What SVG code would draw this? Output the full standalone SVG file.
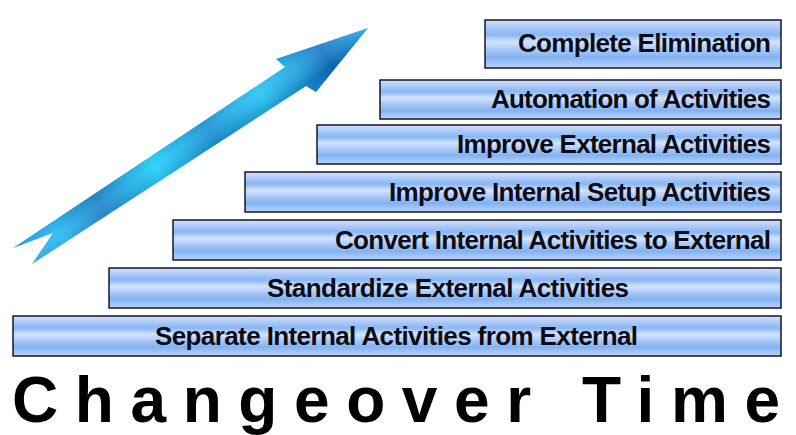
<svg xmlns="http://www.w3.org/2000/svg" width="796" height="435" viewBox="0 0 796 435">
<defs>
<linearGradient id="barGrad" x1="0" y1="0" x2="0" y2="1">
<stop offset="0" stop-color="#d4e2fc"/>
<stop offset="0.12" stop-color="#b4cef8"/>
<stop offset="0.3" stop-color="#8ab6f4"/>
<stop offset="0.46" stop-color="#d2e4ff"/>
<stop offset="0.6" stop-color="#aecbf8"/>
<stop offset="0.78" stop-color="#82b2f2"/>
<stop offset="1" stop-color="#bcd4fa"/>
</linearGradient>
<linearGradient id="arrowGrad" gradientUnits="userSpaceOnUse" x1="13" y1="256" x2="368" y2="28">
<stop offset="0" stop-color="#1aa8e8"/>
<stop offset="0.12" stop-color="#20b8f0"/>
<stop offset="0.24" stop-color="#1480c8"/>
<stop offset="0.4" stop-color="#18d0f8"/>
<stop offset="0.55" stop-color="#1490d8"/>
<stop offset="0.7" stop-color="#20c4f4"/>
<stop offset="0.8" stop-color="#1aa2e2"/>
<stop offset="0.88" stop-color="#1276c4"/>
<stop offset="1" stop-color="#22b4ee"/>
</linearGradient>
<linearGradient id="arrowShade" gradientUnits="userSpaceOnUse" x1="140" y1="150" x2="165" y2="185">
<stop offset="0" stop-color="#003070" stop-opacity="0.2"/>
<stop offset="0.5" stop-color="#ffffff" stop-opacity="0.12"/>
<stop offset="1" stop-color="#003070" stop-opacity="0.25"/>
</linearGradient>
</defs>
<style>
.bar{fill:url(#barGrad);stroke:#141428;stroke-width:1.5}
.lbl{font-family:"Liberation Sans",Arial,sans-serif;font-weight:bold;font-size:26px;fill:#0c0c18}
.title{font-family:"Liberation Sans",Arial,sans-serif;font-weight:bold;font-size:64px;fill:#000}
</style>
<rect width="796" height="435" fill="#ffffff"/>
<g id="arrow">
<polygon points="13,248 285,67 276,59 368,28 316,92 306,86 32,264 53,233" fill="url(#arrowGrad)"/>
<polygon points="13,248 285,67 276,59 368,28 316,92 306,86 32,264 53,233" fill="url(#arrowShade)"/>
</g>
<g id="step1">
<rect class="bar" x="485" y="20" width="296" height="48"/>
<text class="lbl" x="518" y="52" textLength="253" lengthAdjust="spacing">Complete Elimination</text>
</g>
<g id="step2">
<rect class="bar" x="380" y="80" width="401" height="39"/>
<text class="lbl" x="491" y="108" textLength="280" lengthAdjust="spacing">Automation of Activities</text>
</g>
<g id="step3">
<rect class="bar" x="317" y="125" width="464" height="39"/>
<text class="lbl" x="457" y="153" textLength="314" lengthAdjust="spacing">Improve External Activities</text>
</g>
<g id="step4">
<rect class="bar" x="245" y="172" width="536" height="40"/>
<text class="lbl" x="389" y="201" textLength="382" lengthAdjust="spacing">Improve Internal Setup Activities</text>
</g>
<g id="step5">
<rect class="bar" x="173" y="220" width="608" height="40"/>
<text class="lbl" x="335" y="249" textLength="436" lengthAdjust="spacing">Convert Internal Activities to External</text>
</g>
<g id="step6">
<rect class="bar" x="109" y="268" width="672" height="40"/>
<text class="lbl" x="267" y="297" textLength="362" lengthAdjust="spacing">Standardize External Activities</text>
</g>
<g id="step7">
<rect class="bar" x="13" y="316" width="768" height="40"/>
<text class="lbl" x="155" y="345" textLength="483" lengthAdjust="spacing">Separate Internal Activities from External</text>
</g>
<g id="title">
<text class="title" x="12" y="422" textLength="768" lengthAdjust="spacing">Changeover Time</text>
</g>
</svg>
